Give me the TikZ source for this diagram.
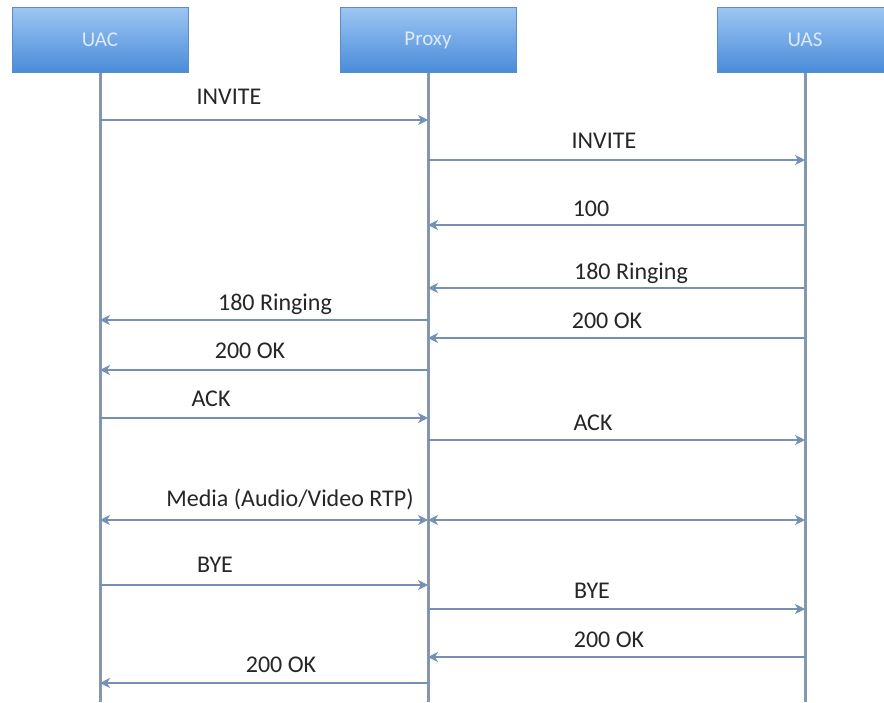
\documentclass[tikz,border=0pt]{standalone}
\usepackage{fontspec}
\setmainfont{Carlito}
\usetikzlibrary{arrows.meta}
\definecolor{boxtop}{HTML}{9CC5F2}
\definecolor{boxbot}{HTML}{4A8CDA}
\definecolor{boxline}{HTML}{5C8CC8}
\definecolor{boxtext}{HTML}{DCEAFA}
\definecolor{lifec}{HTML}{8497AE}
\definecolor{msgc}{HTML}{7490B2}
\definecolor{txtc}{HTML}{262626}
\tikzset{
  actor/.style={draw=boxline, line width=1pt, top color=boxtop, bottom color=boxbot,
    minimum width=176pt, minimum height=65pt, inner sep=0pt, text=boxtext,
    font=\fontsize{21}{24}\selectfont},
  life/.style={draw=lifec, line width=3pt},
  msg/.style={draw=msgc, line width=2.8pt, -{Stealth[length=10pt,width=10pt,inset=3pt]}},
  dmsg/.style={draw=msgc, line width=2.8pt, {Stealth[length=10pt,width=10pt,inset=3pt]}-{Stealth[length=10pt,width=10pt,inset=3pt]}},
  lbl/.style={text=txtc, font=\fontsize{24}{27}\selectfont, inner sep=0pt, anchor=base}
}
\begin{document}
\begin{tikzpicture}[x=1pt,y=-1pt]
\useasboundingbox (0,0) rectangle (884,702);
\clip (0,0) rectangle (884,702);
\fill[white] (0,0) rectangle (884,702);
% actors
\node[actor] (uac) at (100,40) {UAC};
\node[actor] (proxy) at (428,40) {Proxy};
\node[actor] (uas) at (805,40) {UAS};
\coordinate (uacend) at (100,702);
\coordinate (proxyend) at (428,702);
\coordinate (uasend) at (805,702);
\draw[life] (uac.south) -- (uacend);
\draw[life] (proxy.south) -- (proxyend);
\draw[life] (uas.south) -- (uasend);
% messages
\draw[msg] (uac.south |- 0,120) -- (proxy.south |- 0,120);
\node[lbl] (l1) at (229,104) {INVITE};
\draw[msg] (proxy.south |- 0,160) -- (uas.south |- 0,160);
\node[lbl] (l2) at (604,148) {INVITE};
\draw[msg] (uas.south |- 0,225) -- (proxy.south |- 0,225);
\node[lbl] (l3) at (591,216) {100};
\draw[msg] (uas.south |- 0,288) -- (proxy.south |- 0,288);
\node[lbl] (l4) at (631,279) {180 Ringing};
\draw[msg] (proxy.south |- 0,320) -- (uac.south |- 0,320);
\node[lbl] (l5) at (275,310) {180 Ringing};
\draw[msg] (uas.south |- 0,338) -- (proxy.south |- 0,338);
\node[lbl] (l6) at (607,328) {200 OK};
\draw[msg] (proxy.south |- 0,370) -- (uac.south |- 0,370);
\node[lbl] (l7) at (250,358) {200 OK};
\draw[msg] (uac.south |- 0,418) -- (proxy.south |- 0,418);
\node[lbl] (l8) at (211,406) {ACK};
\draw[msg] (proxy.south |- 0,440) -- (uas.south |- 0,440);
\node[lbl] (l9) at (593,430) {ACK};
\draw[dmsg] (uac.south |- 0,520) -- (proxy.south |- 0,520);
\draw[dmsg] (proxy.south |- 0,520) -- (uas.south |- 0,520);
\node[lbl] (l10) at (290,506) {Media (Audio/Video RTP)};
\draw[msg] (uac.south |- 0,585) -- (proxy.south |- 0,585);
\node[lbl] (l11) at (215,572) {BYE};
\draw[msg] (proxy.south |- 0,609) -- (uas.south |- 0,609);
\node[lbl] (l12) at (592,598) {BYE};
\draw[msg] (uas.south |- 0,657) -- (proxy.south |- 0,657);
\node[lbl] (l13) at (609,647) {200 OK};
\draw[msg] (proxy.south |- 0,683) -- (uac.south |- 0,683);
\node[lbl] (l14) at (281,672) {200 OK};
\end{tikzpicture}
\end{document}
